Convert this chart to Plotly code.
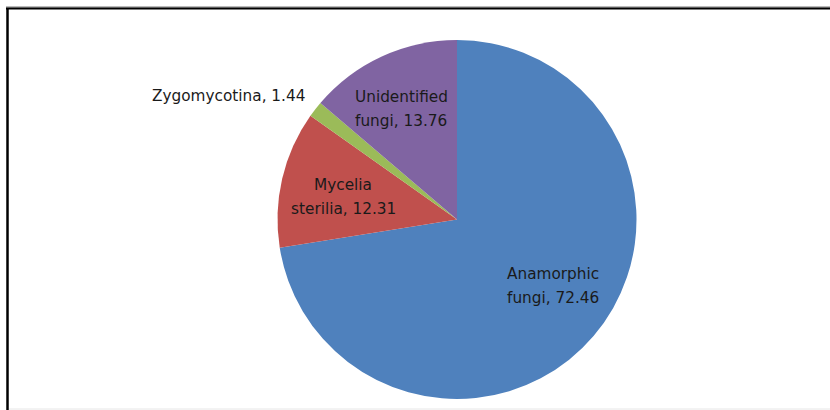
import plotly.graph_objects as go

# Fungal groups and their share (%)
label_lines = [["Anamorphic", "fungi"], ["Mycelia", "sterilia"], ["Zygomycotina"], ["Unidentified", "fungi"]]
values = [72.46, 12.31, 1.44, 13.76]
colors = ["#4F81BD", "#C0504D", "#9BBB59", "#8064A2"]

# Label anchor points in pixels (centre x, baseline y of first line)
label_pos = [(553, 279), (343, 190), (228, 101), (401, 102)]
LINE_GAP = 23.5

W, H = 830, 410
names = [" ".join(l) for l in label_lines]


def fx(x):
    return x / W


def fy(y):
    return 1 - y / H


cx, cy, r = 457, 219.5, 179.5

fig = go.Figure(
    go.Pie(
        labels=names,
        values=values,
        sort=False,
        direction="clockwise",
        rotation=0,
        marker=dict(colors=colors, line=dict(width=0)),
        textinfo="none",
        hoverinfo="label+value",
        showlegend=False,
        domain=dict(x=[fx(cx - r), fx(cx + r)], y=[fy(cy + r), fy(cy - r)]),
    )
)

FONT = dict(family="DejaVu Sans, sans-serif", size=15.3, color="#1a1a1a")

annotations = []
for lines, val, (x, y) in zip(label_lines, values, label_pos):
    texts = list(lines)
    texts[-1] = f"{texts[-1]}, {val:.2f}"
    for i, t in enumerate(texts):
        annotations.append(
            dict(
                text=t,
                x=fx(x),
                y=fy(y + i * LINE_GAP - 5),
                xref="paper",
                yref="paper",
                xanchor="center",
                yanchor="middle",
                showarrow=False,
                font=FONT,
            )
        )

# Chart frame
shapes = [
    dict(type="line", xref="paper", yref="paper", x0=fx(6), x1=1, y0=fy(7), y1=fy(7),
         line=dict(color="#777777", width=1)),
    dict(type="line", xref="paper", yref="paper", x0=fx(6), x1=1, y0=fy(8.5), y1=fy(8.5),
         line=dict(color="#000000", width=2)),
    dict(type="line", xref="paper", yref="paper", x0=fx(7.5), x1=fx(7.5), y0=fy(8), y1=0,
         line=dict(color="#000000", width=2.5)),
    dict(type="line", xref="paper", yref="paper", x0=fx(9), x1=1, y0=fy(409), y1=fy(409),
         line=dict(color="#e6e6e6", width=1)),
]

fig.update_layout(
    width=W,
    height=H,
    margin=dict(l=0, r=0, t=0, b=0),
    paper_bgcolor="white",
    plot_bgcolor="white",
    annotations=annotations,
    shapes=shapes,
)

fig.write_html("out.html")
